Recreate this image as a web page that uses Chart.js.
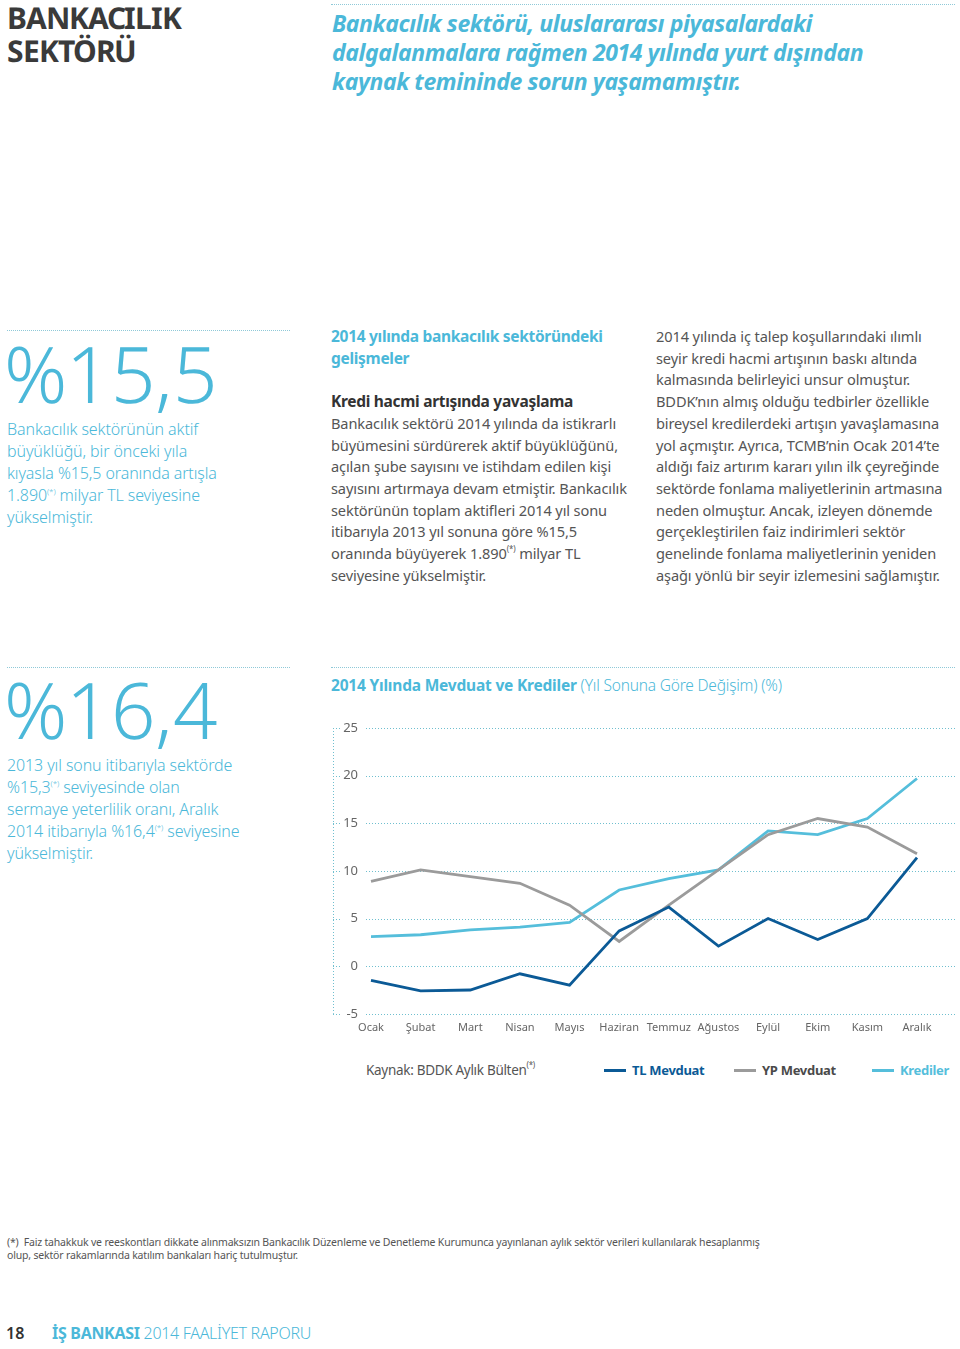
<!DOCTYPE html>
<html lang="tr">
<head>
<meta charset="utf-8">
<script src="https://cdn.jsdelivr.net/npm/chart.js@4.4.1/dist/chart.umd.min.js"></script>
<style>
  @font-face { font-family: 'BuyukRakam'; font-weight: 300; src: local('Noto Sans Light'), local('NotoSans-Light'); ascent-override: 85%; descent-override: 15%; line-gap-override: 0%; }
  @font-face { font-family: 'Baslik'; font-weight: 700; src: local('Noto Sans Bold'), local('NotoSans-Bold'); ascent-override: 85%; descent-override: 15%; line-gap-override: 0%; }
  html, body { margin: 0; padding: 0; background: #fff; }
  body { width: 960px; height: 1349px; position: relative; font-family: "Noto Sans", sans-serif; color: #555; overflow: hidden; }
  .abs { position: absolute; }
  .dots { position: absolute; height: 0; border-top: 1px dotted #8fc9d8; }
  .blue { color: #4bb8d9; }
  .body { font-size: 14.6px; line-height: 21.7px; letter-spacing: -0.12px; color: #555; white-space: nowrap; }
  .big { font-family: 'BuyukRakam', 'Noto Sans', sans-serif; font-size: 78px; font-weight: 300; color: #4bb8d9; letter-spacing: -0.6px; line-height: 78px; }
  .side { font-size: 16px; line-height: 21.9px; color: #4bb8d9; font-weight: 300; letter-spacing: -0.1px; white-space: nowrap; }
  sup { font-size: 8px; vertical-align: baseline; position: relative; top: -7px; line-height: 0; }
  #legend { position: absolute; top: 1061px; left: 0; width: 960px; height: 20px; }
  .lg { position: absolute; top: 0; font-size: 13px; font-weight: 700; line-height: 18px; letter-spacing: -0.3px; white-space: nowrap; }
  .lg i { position: absolute; left: -28px; top: 8px; width: 22px; height: 3px; }
  .h1 { position: absolute; left: 7px; font-family: 'Baslik', 'Noto Sans', sans-serif; font-size: 30px; font-weight: 700; color: #3a3a3a; line-height: 30px; letter-spacing: -1.1px; }
</style>
</head>
<body>

<div class="h1" style="top:4px;">BANKACILIK</div>
<div class="h1" style="top:37px;">SEKTÖRÜ</div>
<div class="dots" style="left:331px;top:4px;width:624px;"></div>
<div class="abs blue" style="left:332px;top:9px;font-size:23px;font-weight:700;font-style:italic;line-height:29px;letter-spacing:-0.4px;white-space:nowrap;">Bankacılık sektörü, uluslararası piyasalardaki<br>dalgalanmalara rağmen 2014 yılında yurt dışından<br>kaynak temininde sorun yaşamamıştır.</div>

<div class="dots" style="left:7px;top:330px;width:283px;"></div>
<div class="abs big" style="left:4px;top:337px;">%15,5</div>
<div class="abs side" style="left:7px;top:419px;">Bankacılık sektörünün aktif<br>büyüklüğü,  bir önceki yıla<br>kıyasla %15,5 oranında artışla<br>1.890<sup>(*)</sup> milyar TL seviyesine<br>yükselmiştir.</div>

<div class="abs body" style="left:331px;top:326px;">
  <span class="blue" style="font-weight:700;font-size:15.5px;letter-spacing:-0.3px;">2014 yılında bankacılık sektöründeki<br>gelişmeler</span><br>
  <span style="display:block;height:21.7px;"></span>
  <span style="font-weight:700;color:#333;font-size:15.5px;letter-spacing:-0.3px;">Kredi hacmi artışında yavaşlama</span><br>
  Bankacılık sektörü 2014 yılında da istikrarlı<br>büyümesini sürdürerek aktif büyüklüğünü,<br>açılan şube sayısını ve istihdam edilen kişi<br>sayısını artırmaya devam etmiştir. Bankacılık<br>sektörünün toplam aktifleri 2014 yıl sonu<br>itibarıyla 2013 yıl sonuna göre %15,5<br>oranında büyüyerek 1.890<sup>(*)</sup> milyar TL<br>seviyesine yükselmiştir.
</div>

<div class="abs body" style="left:656px;top:326px;">2014 yılında iç talep koşullarındaki ılımlı<br>seyir kredi hacmi artışının baskı altında<br>kalmasında belirleyici unsur olmuştur.<br>BDDK’nın almış olduğu tedbirler özellikle<br>bireysel kredilerdeki artışın yavaşlamasına<br>yol açmıştır. Ayrıca, TCMB’nin Ocak 2014’te<br>aldığı faiz artırım kararı yılın ilk çeyreğinde<br>sektörde fonlama maliyetlerinin artmasına<br>neden olmuştur. Ancak, izleyen dönemde<br>gerçekleştirilen faiz indirimleri sektör<br>genelinde fonlama maliyetlerinin yeniden<br>aşağı yönlü bir seyir izlemesini sağlamıştır.</div>

<div class="dots" style="left:7px;top:667px;width:283px;"></div>
<div class="dots" style="left:331px;top:667px;width:624px;"></div>
<div class="abs big" style="left:4px;top:673px;">%16,4</div>
<div class="abs side" style="left:7px;top:755px;">2013 yıl sonu itibarıyla sektörde<br>%15,3<sup>(*)</sup> seviyesinde olan<br>sermaye yeterlilik oranı, Aralık<br>2014 itibarıyla %16,4<sup>(*)</sup> seviyesine<br>yükselmiştir.</div>

<div class="abs blue" style="left:331px;top:674px;font-size:15.5px;line-height:22px;white-space:nowrap;letter-spacing:-0.2px;"><b>2014 Yılında Mevduat ve Krediler</b> <span style="font-weight:300;">(Yıl Sonuna Göre Değişim) (%)</span></div>

<div class="abs" style="left:330px;top:700px;width:630px;height:347px;">
  <canvas id="graphic-mevduat" width="630" height="347"></canvas>
</div>

<div class="abs" style="left:366px;top:1061px;font-size:13.5px;line-height:18px;color:#555;letter-spacing:-0.3px;white-space:nowrap;">Kaynak: BDDK Aylık Bülten<sup>(*)</sup></div>
<div id="legend"></div>

<div class="abs" style="left:7px;top:1236px;font-size:10.5px;line-height:13px;color:#555;letter-spacing:-0.18px;white-space:nowrap;">(*)&nbsp; Faiz tahakkuk ve reeskontları dikkate alınmaksızın Bankacılık Düzenleme ve Denetleme Kurumunca yayınlanan aylık sektör verileri kullanılarak hesaplanmış<br>olup, sektör rakamlarında katılım bankaları hariç tutulmuştur.</div>

<div class="abs" style="left:6px;top:1323px;font-size:16px;line-height:20px;color:#333;font-weight:600;">18</div>
<div class="abs blue" style="left:52px;top:1323px;font-size:16px;line-height:20px;white-space:nowrap;letter-spacing:-0.3px;"><b>İŞ BANKASI</b> <span style="font-weight:300;">2014 FAALİYET RAPORU</span></div>

<script>
const aylar = ['Ocak', 'Şubat', 'Mart', 'Nisan', 'Mayıs', 'Haziran', 'Temmuz', 'Ağustos', 'Eylül', 'Ekim', 'Kasım', 'Aralık'];
const tlMevduat = [-1.5, -2.6, -2.5, -0.8, -2.0, 3.7, 6.2, 2.1, 5.0, 2.8, 5.0, 11.4];
const ypMevduat = [8.9, 10.1, 9.4, 8.7, 6.4, 2.6, 6.4, 10.1, 13.8, 15.5, 14.6, 11.8];
const krediler = [3.1, 3.3, 3.8, 4.1, 4.6, 8.0, 9.2, 10.1, 14.2, 13.8, 15.5, 19.7];
const yTicks = [-5, 0, 5, 10, 15, 20, 25];
const seriAdlari = ['TL Mevduat', 'YP Mevduat', 'Krediler'];
const renkler = ['#0b5a96', '#9b9b9b', '#55bedb'];
const yaziRenkleri = ['#0b5a96', '#4a4a4a', '#55bedb'];

// noktali cizgiler: yatay grid ve soldaki dikey eksen
const noktaliGrid = {
    id: 'noktaliGrid',
    beforeDatasetsDraw(chart) {
        const ctx = chart.ctx;
        const y = chart.scales.y;
        ctx.save();
        ctx.strokeStyle = '#6fbfcf';
        ctx.lineWidth = 1;
        ctx.setLineDash([1, 2]);
        y.ticks.forEach(t => {
            const py = Math.round(y.getPixelForValue(t.value)) + 0.5;
            ctx.beginPath();
            ctx.moveTo(36, py);
            ctx.lineTo(625, py);
            ctx.stroke();
            ctx.beginPath();
            ctx.moveTo(3, py);
            ctx.lineTo(10, py);
            ctx.stroke();
        });
        ctx.beginPath();
        ctx.moveTo(3.5, y.getPixelForValue(25));
        ctx.lineTo(3.5, y.getPixelForValue(-5));
        ctx.stroke();
        ctx.restore();
    }
};

new Chart(document.getElementById('graphic-mevduat'), {
    type: 'line',
    data: {
        labels: aylar,
        datasets: [tlMevduat, ypMevduat, krediler].map((d, i) => ({
            label: seriAdlari[i],
            data: d,
            borderColor: renkler[i],
            backgroundColor: renkler[i],
            borderWidth: 2.8,
            pointRadius: 0,
            tension: 0,
            order: i
        }))
    },
    options: {
        responsive: false,
        animation: false,
        layout: { padding: { top: 28, right: 43, bottom: 6, left: 0 } },
        scales: {
            x: {
                offset: false,
                grid: { display: false, drawTicks: false },
                border: { display: false },
                ticks: { color: '#666', padding: 7, maxRotation: 0, autoSkip: false, font: { family: 'Noto Sans', size: 11 } }
            },
            y: {
                min: -5,
                max: 25,
                afterBuildTicks: s => { s.ticks = yTicks.map(v => ({ value: v })); },
                afterFit: s => { s.width = 41; },
                grid: { display: false, drawTicks: false },
                border: { display: false },
                ticks: { color: '#666', padding: 13, font: { family: 'Noto Sans', size: 13 } }
            }
        },
        plugins: {
            legend: { display: false },
            tooltip: { enabled: false }
        }
    },
    plugins: [noktaliGrid]
});

// legend
const legendX = [632, 762, 900];
const legend = document.getElementById('legend');
seriAdlari.forEach((ad, i) => {
    const el = document.createElement('div');
    el.className = 'lg';
    el.style.left = legendX[i] + 'px';
    el.style.color = yaziRenkleri[i];
    el.innerHTML = '<i style="background:' + renkler[i] + '"></i>' + ad;
    legend.appendChild(el);
});
</script>
</body>
</html>
